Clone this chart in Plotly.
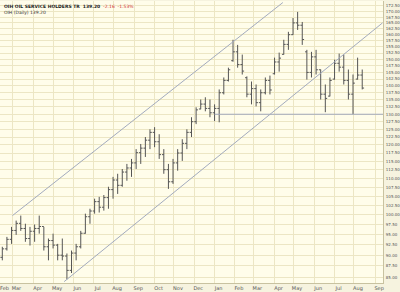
import pandas as pd
import plotly.graph_objects as go

# ---- data (weekly bars) ----
START, END = "2005-02-10", "2006-09-15"
highs = [92.0, 94.4, 96.9, 98.5, 99.8, 97.7, 96.9, 97.5, 99.8, 96.9, 94.0, 95.2, 92.7, 94.0, 90.4, 91.1,
         92.7, 95.9, 100.3, 101.6, 104.3, 104.8, 105.3, 107.6, 110.4, 111.3, 112.7, 114.2, 115.7, 118.7,
         120.3, 122.5, 125.0, 125.7, 123.4, 118.7, 114.2, 115.7, 118.7, 121.8, 125.0, 129.0, 132.4, 135.1,
         135.9, 135.1, 133.4, 138.7, 143.1, 146.8, 157.9, 155.8, 151.9, 143.5, 141.6, 140.5, 138.7, 143.1,
         143.8, 150.7, 152.7, 157.9, 161.2, 167.1, 169.8, 165.4, 153.8, 153.0, 153.8, 146.1, 140.5, 143.1,
         149.9, 152.3, 151.9, 146.1, 144.2, 150.7, 146.1]
lows = [88.8, 91.1, 92.7, 94.9, 95.9, 93.2, 92.3, 93.2, 95.2, 91.1, 88.8, 91.6, 88.8, 88.8, 84.5, 85.9,
        88.8, 91.6, 95.2, 97.7, 100.3, 100.6, 101.1, 101.6, 104.3, 105.6, 107.6, 109.3, 110.4, 112.7,
        114.2, 116.3, 118.7, 119.3, 115.7, 111.3, 107.0, 108.4, 112.2, 115.1, 118.7, 122.5, 126.7, 131.7,
        131.0, 129.0, 127.7, 127.3, 136.9, 141.6, 149.1, 146.8, 144.2, 135.9, 133.4, 132.7, 131.0, 136.9,
        136.9, 144.2, 145.3, 151.9, 153.8, 159.9, 162.0, 155.8, 142.3, 143.1, 144.2, 135.1, 130.7, 136.2,
        142.3, 145.3, 140.5, 135.1, 130.0, 142.3, 138.7]
opens = [89.5, 91.5, 93.8, 96.0, 97.8, 96.5, 94.0, 95.8, 96.5, 97.0, 92.0, 93.5, 92.4, 90.0, 89.8, 86.5,
         90.5, 92.0, 95.3, 99.5, 101.0, 103.5, 102.0, 104.6, 106.8, 109.5, 108.0, 111.8, 113.0, 114.5,
         117.6, 119.0, 121.5, 124.0, 121.0, 117.0, 112.5, 109.0, 114.5, 117.5, 120.5, 124.0, 127.5, 131.8,
         133.5, 132.0, 130.5, 132.0, 137.5, 142.0, 149.5, 153.0, 148.0, 143.0, 137.0, 139.0, 134.0, 137.5,
         142.0, 144.5, 149.0, 152.0, 156.0, 160.0, 165.0, 164.0, 153.0, 145.0, 151.0, 146.0, 137.0, 136.3,
         142.5, 148.5, 147.0, 142.0, 137.0, 142.5, 144.0]
closes = [91.5, 93.8, 96.0, 97.8, 96.5, 94.0, 95.8, 96.5, 97.0, 92.0, 93.5, 92.4, 90.0, 89.8, 86.5, 90.5,
          92.0, 95.3, 99.5, 101.0, 103.5, 102.0, 104.6, 106.8, 109.5, 108.0, 111.8, 113.0, 114.5, 117.6,
          119.0, 121.5, 124.0, 121.0, 117.0, 112.5, 109.0, 114.5, 117.5, 120.5, 124.0, 127.5, 131.5, 133.5,
          132.0, 130.5, 132.0, 137.5, 142.0, 146.0, 153.0, 148.0, 145.5, 137.0, 139.0, 134.0, 137.5, 142.0,
          138.5, 149.0, 150.5, 156.0, 160.0, 165.0, 164.0, 158.0, 145.0, 151.0, 146.0, 137.0, 135.5, 142.0,
          148.5, 147.0, 142.0, 137.0, 141.0, 144.0, 139.2]

# trend lines (trading-day index, price)
upper_line = ([13, 306], [99.8, 174.0])
lower_line = ([69, 414], [84.0, 165.0])
support_line = ([232, 414.5], [130.0, 130.0])

y_ticks = [85 + 2.5 * i for i in range(36)]
title_main = "OIH OIL SERVICE HOLDERS TR  139.20"
title_chg = "-2.16  -1.53%"
title_sub = "OIH (Daily) 139.20"

# ---- build ----
bdays = pd.bdate_range(START, END)
bar_x = [5 * k + 2 for k in range(len(highs))]

month_first = {}
for i, d in enumerate(bdays):
    key = (d.year, d.month)
    if key not in month_first:
        month_first[key] = (i, d.strftime("%b"))
tick_x = [v[0] for v in month_first.values()]
tick_t = [v[1] for v in month_first.values()]

fig = go.Figure()
line_col = "#a3abbe"
for xs, ys in (upper_line, lower_line, support_line):
    fig.add_trace(go.Scatter(x=xs, y=ys, mode="lines",
                             line=dict(color=line_col, width=1), hoverinfo="skip"))
fig.add_trace(go.Ohlc(x=bar_x, open=opens, high=highs, low=lows, close=closes,
                      increasing_line_color="#555555", decreasing_line_color="#555555",
                      line=dict(width=1), tickwidth=0.4))

grid = "#ece6c4"
fig.update_layout(
    width=400, height=292, margin=dict(l=0, r=14, t=1, b=7),
    paper_bgcolor="#f6f3df", plot_bgcolor="#fffdea",
    showlegend=False,
    font=dict(family="DejaVu Sans", size=5, color="#555555"),
    xaxis=dict(range=[-0.5, 414.5], tickvals=tick_x, ticktext=tick_t, showgrid=True,
               gridcolor=grid, gridwidth=1, zeroline=False, showline=True, linecolor="#c8c2a0",
               ticks="", ticklabelshift=4, ticklabelstandoff=0, rangeslider=dict(visible=False),
               tickfont=dict(size=5)),
    yaxis=dict(type="log", range=[1.92273, 2.24229], side="right", tickvals=y_ticks,
               ticktext=[f"{v:.2f}" for v in y_ticks], showgrid=True, gridcolor=grid,
               zeroline=False, showline=True, linecolor="#c8c2a0", ticks="",
               ticklabelstandoff=1, tickfont=dict(size=4)),
)
fig.add_annotation(x=0.005, y=0.997, xref="paper", yref="paper", xanchor="left", yanchor="top",
                   showarrow=False, text=f"<b>{title_main}</b>  <span style='color:#d03030'>{title_chg}</span>",
                   font=dict(size=4.5, color="#222222"))
fig.add_annotation(x=0.005, y=0.975, xref="paper", yref="paper", xanchor="left", yanchor="top",
                   showarrow=False, text=title_sub, font=dict(size=4.5, color="#333333"))

fig.write_html("out.html")
